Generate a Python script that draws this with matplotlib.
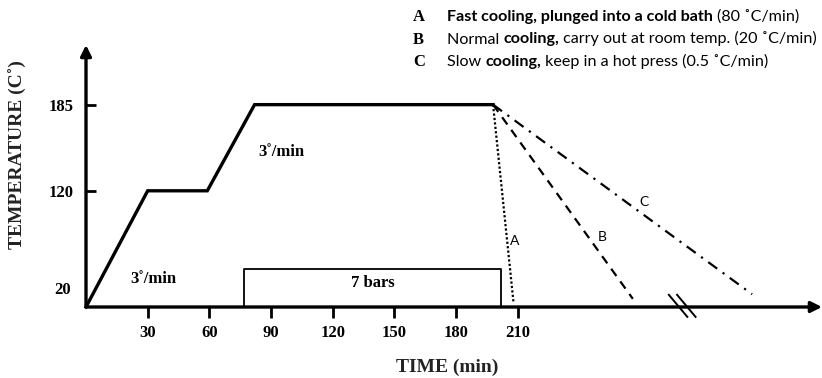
import numpy as np
import matplotlib.pyplot as plt

# heating profile (time in min, temperature in C)
profile_t = [0, 30, 59, 82, 198]
profile_T = [20, 120, 120, 185, 185]

# cooling routes from the end of the hold
cool_names = ['A', 'B', 'C']
cool_end_t = [208, 266, 324]
cool_end_T = [23, 27, 31]
cool_styles = [(0, (1, 1)), (0, (4, 3)), (0, (5, 3, 1, 3))]
cool_label_t = [206, 249, 269]
cool_label_T = [77, 80, 110]

# pressure window
press_on, press_off, press_level = 77, 202, 53

xticks = [30, 60, 90, 120, 150, 180, 210]
yticks = [120, 185]
break_at = 288

legend_rows = [
    ('A', [('Fast cooling, plunged into a cold bath ', 'bold'), ('(80 \u02daC/min)', 'normal')]),
    ('B', [('Normal ', 'normal'), ('cooling,', 'bold'), (' carry out at room temp. (20 \u02daC/min)', 'normal')]),
    ('C', [('Slow ', 'normal'), ('cooling,', 'bold'), (' keep in a hot press (0.5 \u02daC/min)', 'normal')]),
]

# the y axis of the sketch is not linear: stretch between the marked temperatures
scale_T = [-100, 20, 120, 185, 400]
scale_px = [-139.2, 0, 116, 202, 486.4]
fwd = lambda v: np.interp(v, scale_T, scale_px)
inv = lambda v: np.interp(v, scale_px, scale_T)

serif = 'Liberation Serif'
sans = 'Lato'

fig = plt.figure(figsize=(8.22, 3.78), dpi=100)
ax = fig.add_axes([86 / 822, 71 / 378, 736 / 822, 262 / 378])
ax.set_yscale('function', functions=(fwd, inv))
ax.set_xlim(0, 358)
ax.set_ylim(20, 230)

for s in ax.spines.values():
    s.set_visible(False)

# axes with arrow heads
arw = dict(arrowstyle='-|>', lw=2.4, color='k', mutation_scale=16, shrinkA=0, shrinkB=0)
ax.annotate('', xy=(0, 1), xytext=(0, 0), xycoords='axes fraction', arrowprops=arw)
ax.annotate('', xy=(1, 0), xytext=(0, 0), xycoords='axes fraction', arrowprops=arw)

ax.plot(profile_t, profile_T, color='k', lw=2.4, solid_joinstyle='miter', clip_on=False)

for name, t1, T1, ls, lt, lT in zip(cool_names, cool_end_t, cool_end_T, cool_styles,
                                    cool_label_t, cool_label_T):
    ax.plot([profile_t[-1], t1], [profile_T[-1], T1], color='k', lw=1.6, linestyle=ls)
    ax.text(lt, lT, name, fontsize=10, family=sans, ha='left', va='center')

# pressure box
ax.plot([press_on, press_on, press_off, press_off], [20, press_level, press_level, 20],
        color='k', lw=1.3)
ax.text((press_on + press_off) / 2, 40.7, '7 bars', fontsize=12, family=serif,
        weight='bold', ha='center', va='center')

ax.text(21.4, 44, '3\u02da/min', fontsize=12, family=serif, weight='bold', va='center')
ax.text(83.8, 149.5, '3\u02da/min', fontsize=12, family=serif, weight='bold', va='center')

# axis break marks
for dx in [0, 4]:
    ax.plot([break_at - 4.5 + dx, break_at + 4.5 + dx], [30.5, 11.5], color='k', lw=1.4,
            clip_on=False)

ax.set_xticks(xticks)
ax.set_yticks(yticks)
ax.tick_params(axis='x', direction='out', length=8, width=2, pad=5, labelsize=12)
ax.tick_params(axis='y', direction='in', length=7, width=2, pad=9, labelsize=12)
for lab in ax.get_xticklabels() + ax.get_yticklabels():
    lab.set_family(serif)
    lab.set_weight('bold')
ax.text(-7.5, 34.7, '20', fontsize=12, family=serif, weight='bold', ha='right', va='center')

fig.text(18 / 822, 1 - 155 / 378, 'TEMPERATURE (C\u02da)', rotation=90, fontsize=14,
         family=serif, weight='bold', color='#222222', ha='center', va='center')
fig.text(447 / 822, 1 - 367 / 378, 'TIME (min)', fontsize=14, family=serif,
         weight='bold', color='#222222', ha='center', va='center')

# legend rows at the top, mixed weights chained one after another
for i, (letter, parts) in enumerate(legend_rows):
    y = 1 - (17 + 22.5 * i) / 378
    fig.text(413 / 822, y, letter, fontsize=12, family=serif, weight='bold', va='center')
    prev = fig.text(447 / 822, y, parts[0][0], fontsize=11.6, family=sans,
                    weight=parts[0][1], va='center')
    for txt, w in parts[1:]:
        prev = ax.annotate(txt, xy=(1, 0), xycoords=prev, fontsize=11.6, family=sans,
                           weight=w, ha='left', va='bottom', annotation_clip=False)

fig.savefig('out.png', dpi=100)
